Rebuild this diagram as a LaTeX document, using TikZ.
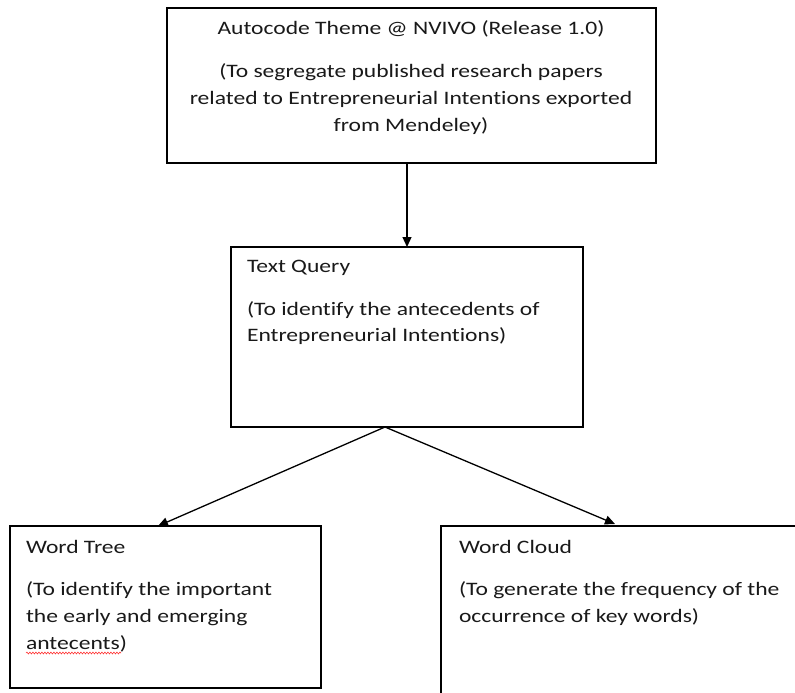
\documentclass[tikz,border=0pt]{standalone}
\usepackage{fontspec}
\setmainfont{Carlito}[FakeStretch=1.24,Ligatures={NoCommon}]
\usetikzlibrary{arrows.meta,decorations.pathmorphing}
\begin{document}
\begin{tikzpicture}[x=1pt,y=-1pt,
  box/.style={draw=black,line width=1.2pt,rectangle,inner sep=0pt,outer sep=0pt},
  txt/.style={inner sep=0pt,outer sep=0pt,font=\fontsize{19}{26.8}\selectfont,text=black!90},
  conn/.style={line width=1.3pt,-{Triangle[length=10pt,width=9pt]}}]
\useasboundingbox (0,0) rectangle (795,693);
\clip (0,0) rectangle (795,693);
\fill[white] (0,0) rectangle (795,693);
% boxes
\node[box,minimum width=489pt,minimum height=155pt] (b1) at (411.5,85.5) {};
\node[box,minimum width=352pt,minimum height=180pt] (b2) at (407,337) {};
\node[box,minimum width=311pt,minimum height=162pt] (b3) at (165.5,607) {};
\node[box,minimum width=380pt,minimum height=200pt,anchor=north west] (b4) at (441,526) {};
% texts
\node[txt,align=center,anchor=north] (t1) at (411,21) {Autocode Theme @ NVIVO (Release 1.0)\\[16pt]
(To segregate published research papers\\related to Entrepreneurial Intentions exported\\from Mendeley)};
\node[txt,align=left,anchor=north west] (t2) at (247,260) {Text Query\\[16pt]
(To identify the antecedents of\\Entrepreneurial Intentions)};
\node[txt,align=left,anchor=north west] (t3) at (26,540) {Word Tree\\[16pt]
(To identify the important\\the early and emerging\\antecents)};
\node[txt,align=left,anchor=north west] (t4) at (459,540) {Word Cloud\\[16pt]
(To generate the frequency of the\\occurrence of key words)};
% spell-check squiggle
\coordinate (sq1) at (26,653);
\coordinate (sq2) at (121,653);
\draw[red!80,line width=0.6pt,decorate,decoration={snake,amplitude=0.9pt,segment length=3pt}] (sq1) -- (sq2);
% connectors
\coordinate (fork) at (385,427);
\draw[conn] (b1.south -| 407,0) -- (b2.north -| 407,0);
\draw[conn] (fork) -- (158,526);
\draw[conn] (fork) -- (615,524);
\end{tikzpicture}
\end{document}
